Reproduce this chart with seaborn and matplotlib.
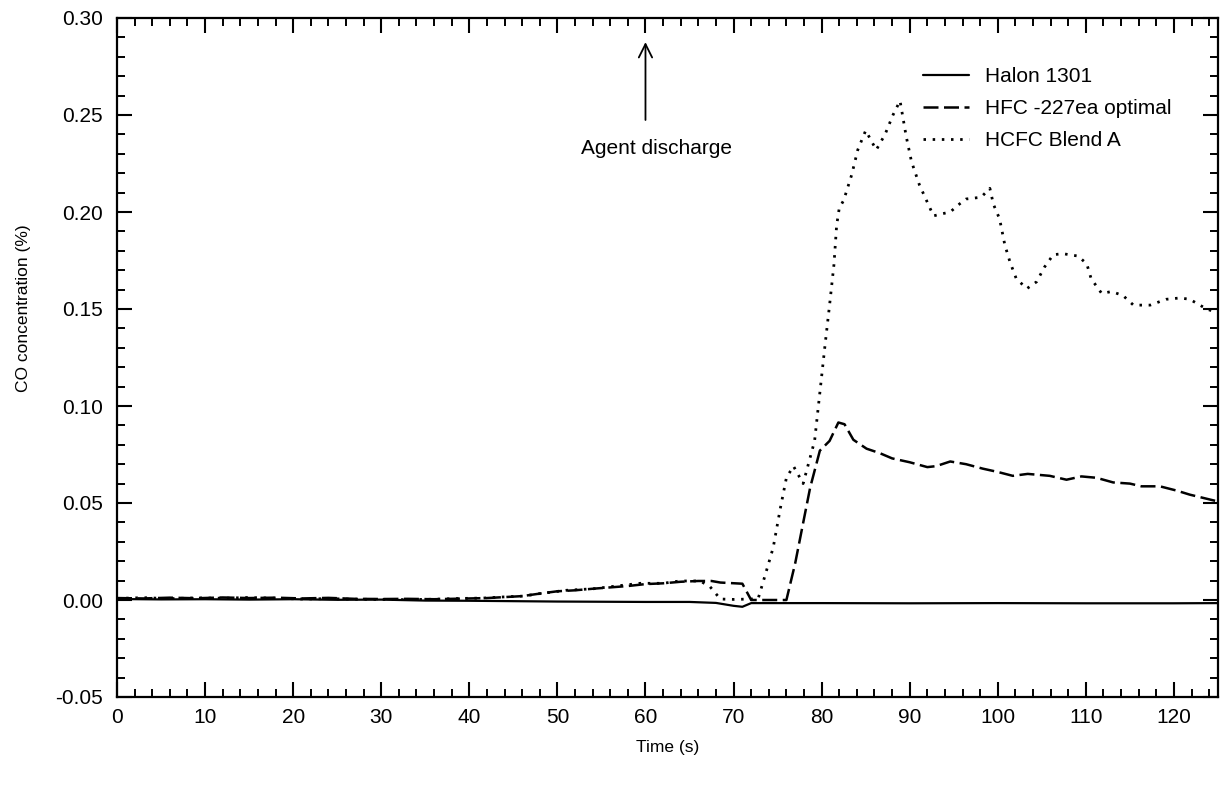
import matplotlib
matplotlib.use("Agg")
import matplotlib.pyplot as plt
from matplotlib.ticker import MultipleLocator, FormatStrFormatter
import seaborn as sns

# ---- data ----
halon_t = [0, 5, 10, 15, 20, 25, 30, 35, 40, 45, 50, 55, 60, 65, 68, 70, 71, 72, 75, 80, 90, 100, 110, 120, 125]
halon_y = [0.0005, 0.0003, 0.0004, 0.0002, 0.0004, 0.0001, 0.0002, -0.0003, -0.0004, -0.0006,
           -0.0008, -0.0009, -0.0010, -0.0010, -0.0015, -0.0030, -0.0035, -0.0016, -0.0016, -0.0016,
           -0.0017, -0.0016, -0.0017, -0.0017, -0.0016]

hfc_t = [0, 3, 6, 9, 12, 15, 18, 21, 24, 27,
         30, 33, 36, 39, 42, 44, 46, 48, 50, 52,
         54, 56, 58, 60, 62, 64, 66, 67.5, 68.5, 71,
         72, 74, 76, 77, 78, 78.7, 79.8, 80.9, 81.9, 82.6,
         83.6, 85.1, 86.6, 88, 90, 92, 93, 94.6, 96.4, 98.3,
         100, 101.7, 103.4, 105.9, 107.8, 109.5, 111.2, 113.1, 115, 116.3,
         118.4, 120.3, 121.8, 124.8]
hfc_y = [0.0010, 0.0008, 0.0012, 0.0009, 0.0013, 0.0010, 0.0012, 0.0008, 0.0011, 0.0006,
         0.0005, 0.0006, 0.0004, 0.0007, 0.0010, 0.0015, 0.0020, 0.0033, 0.0045, 0.0050,
         0.0058, 0.0065, 0.0072, 0.0082, 0.0086, 0.0094, 0.0098, 0.0098, 0.0090, 0.0084,
         0.0000, 0.0000, 0.0000, 0.0190, 0.0420, 0.0580, 0.0770, 0.0820, 0.0915, 0.0906,
         0.0826, 0.0780, 0.0757, 0.0730, 0.0710, 0.0685, 0.0690, 0.0714, 0.0700, 0.0677,
         0.0660, 0.0640, 0.0650, 0.0640, 0.0620, 0.0637, 0.0630, 0.0606, 0.0600, 0.0586,
         0.0586, 0.0564, 0.0543, 0.0510]

hcfc_t = [0, 3, 6, 9, 12, 15, 18, 21, 24, 27,
          30, 33, 36, 39, 41.6, 43.5, 46.1, 48, 51, 54.1,
          56.7, 59.4, 62, 63.9, 66.2, 67.3, 68.5, 70, 72, 72.8,
          73.6, 74.5, 75.3, 76, 76.8, 77.9, 79.2, 79.8, 80.4, 80.9,
          81.4, 81.7, 82, 82.5, 83.4, 84.1, 85, 86.2, 87.2, 88.1,
          88.9, 89.6, 90.2, 91.1, 92, 92.7, 93.6, 94.6, 95.5, 96.4,
          98.1, 99.1, 99.5, 100.2, 100.8, 101.4, 102.1, 103.3, 104.4, 105.3,
          106.3, 107.4, 109.1, 110.1, 110.6, 111.8, 112.9, 114.2, 115.4, 117.3,
          119.1, 120.7, 121.8, 123.7, 125]
hcfc_y = [0.0008, 0.0012, 0.0007, 0.0011, 0.0009, 0.0013, 0.0009, 0.0005, 0.0007, 0.0004,
          0.0003, 0.0002, 0.0004, 0.0008, 0.0010, 0.0015, 0.0020, 0.0033, 0.0050, 0.0058,
          0.0072, 0.0086, 0.0086, 0.0098, 0.0098, 0.0070, 0.0005, 0.0003, 0.0005, 0.0008,
          0.0130, 0.0270, 0.0470, 0.0630, 0.0690, 0.0600, 0.0820, 0.1070, 0.1320, 0.1520,
          0.1730, 0.1930, 0.2020, 0.2060, 0.2190, 0.2320, 0.2420, 0.2320, 0.2400, 0.2500,
          0.2573, 0.2390, 0.2260, 0.2140, 0.2050, 0.1980, 0.1990, 0.2000, 0.2036, 0.2067,
          0.2076, 0.2122, 0.2040, 0.1965, 0.1830, 0.1740, 0.1656, 0.1605, 0.1640, 0.1716,
          0.1780, 0.1785, 0.1773, 0.1733, 0.1656, 0.1580, 0.1590, 0.1570, 0.1520, 0.1520,
          0.1550, 0.1557, 0.1550, 0.1500, 0.1480]

series_labels = ["Halon 1301", "HFC -227ea optimal", "HCFC Blend A"]
x_label = "Time (s)"
y_label = "CO concentration (%)"
annotation_text = "Agent discharge"
discharge_time = 60

# ---- style ----
sns.set_style("ticks")
plt.rcParams["font.family"] = ["Liberation Sans", "DejaVu Sans"]
plt.rcParams["axes.unicode_minus"] = False
plt.rcParams["text.color"] = "black"
plt.rcParams["axes.labelcolor"] = "black"
plt.rcParams["xtick.color"] = "black"
plt.rcParams["ytick.color"] = "black"

fig = plt.figure(figsize=(12.21, 7.85), dpi=100)
ax = fig.add_axes([117 / 1221, 1 - 697 / 785, (1218 - 117) / 1221, (697 - 18) / 785])

sns.lineplot(x=halon_t, y=halon_y, ax=ax, color="black", lw=1.6,
             linestyle="-", label=series_labels[0])
sns.lineplot(x=hfc_t, y=hfc_y, ax=ax, color="black", lw=1.8,
             linestyle=(0, (6, 2.2)), label=series_labels[1])
sns.lineplot(x=hcfc_t, y=hcfc_y, ax=ax, color="black", lw=2.0,
             linestyle=(0, (0.9, 2.4)), label=series_labels[2])

ax.set_xlim(0, 125)
ax.set_ylim(-0.05, 0.30)
ax.xaxis.set_major_locator(MultipleLocator(10))
ax.xaxis.set_minor_locator(MultipleLocator(2))
ax.yaxis.set_major_locator(MultipleLocator(0.05))
ax.yaxis.set_minor_locator(MultipleLocator(0.01))
ax.yaxis.set_major_formatter(FormatStrFormatter("%.2f"))

for side in ["left", "right", "top", "bottom"]:
    ax.spines[side].set_visible(True)
    ax.spines[side].set_linewidth(1.6)
    ax.spines[side].set_color("black")

ax.tick_params(which="both", direction="in", top=True, right=True,
               colors="black", labelcolor="black", labelsize=15)
ax.tick_params(which="major", length=11, width=1.5)
ax.tick_params(axis="y", which="major", pad=10)
ax.tick_params(axis="x", which="major", pad=8)
ax.tick_params(which="minor", length=6, width=1.4)

ax.set_xlabel(x_label, fontsize=12.5, labelpad=9, color="black")
ax.set_ylabel(y_label, fontsize=12.5, color="black")
ax.yaxis.set_label_coords(-0.078, 0.573)

ax.annotate("", xy=(discharge_time, 0.289), xytext=(discharge_time, 0.246),
            arrowprops=dict(arrowstyle="->", lw=1.3, color="black", mutation_scale=24))
ax.text(61.2, 0.2328, annotation_text, ha="center", va="center", fontsize=15, color="black")

leg = ax.legend(loc="upper right", bbox_to_anchor=(0.9745, 0.955), frameon=False,
                fontsize=15, handlelength=2.2, labelspacing=0.62, handletextpad=0.75,
                labelcolor="black")

fig.savefig("out.png", dpi=100, facecolor="white")
